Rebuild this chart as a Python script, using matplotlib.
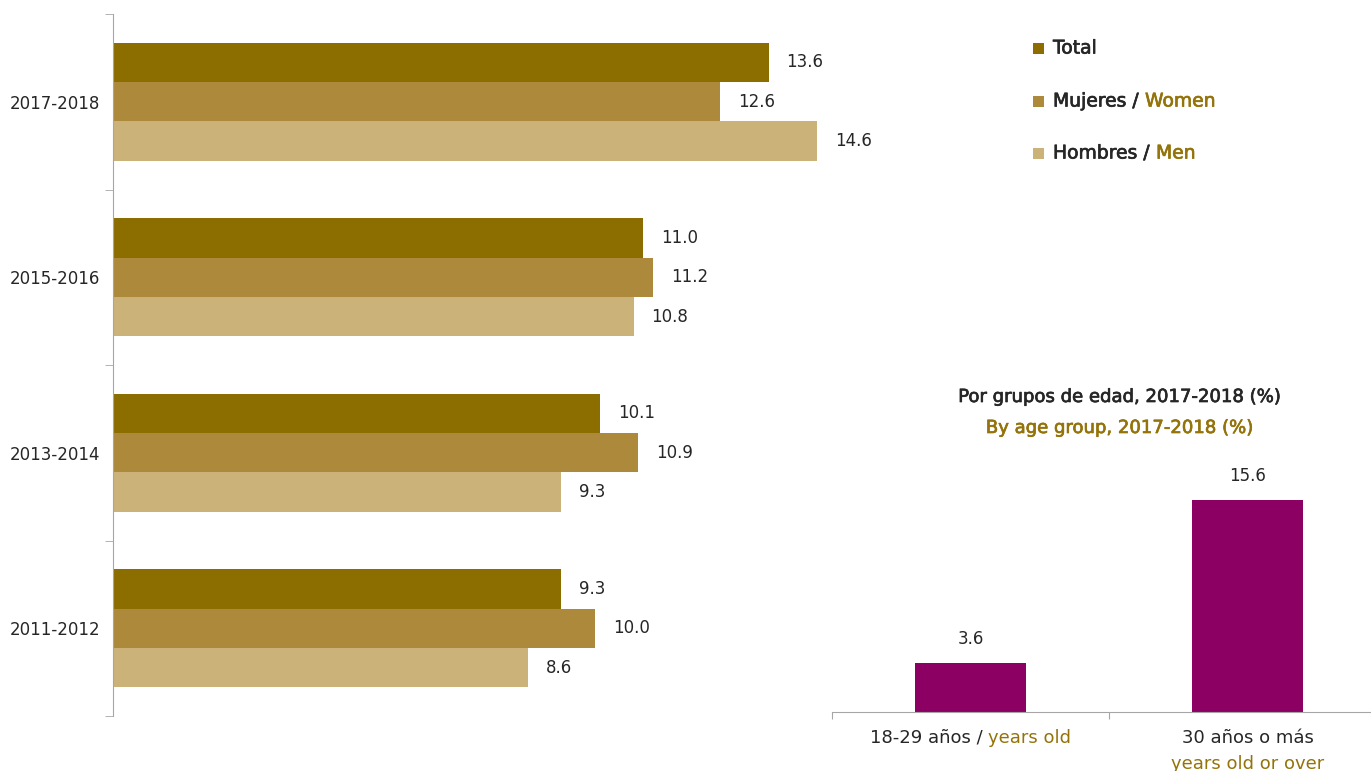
import numpy as np
import matplotlib.pyplot as plt
import matplotlib.patheffects as pe
from matplotlib.patches import Rectangle

# data
periods = ['2011-2012', '2013-2014', '2015-2016', '2017-2018']
total = [9.3, 10.1, 11.0, 13.6]
women = [10.0, 10.9, 11.2, 12.6]
men = [8.6, 9.3, 10.8, 14.6]

age_values = [3.6, 15.6]
age_labels = [('18-29 años / ', 'years old'), ('30 años o más', 'years old or over')]

legend_items = [('Total', ''), ('Mujeres / ', 'Women'), ('Hombres / ', 'Men')]

GOLD_DARK = '#8C6D00'
GOLD_MID = '#AD8A3B'
GOLD_LIGHT = '#CBB278'
PURPLE = '#8B0062'
TXT = '#262626'
ACCENT = '#94730A'
AXIS = '#A6A6A6'

plt.rcParams['font.family'] = ['DejaVu Sans']

W, H = 1371, 771
fig = plt.figure(figsize=(W / 100, H / 100), dpi=100)
renderer = fig.canvas.get_renderer()


def medium(col):
    # thin stroke to fake a medium font weight
    return [pe.withStroke(linewidth=0.5, foreground=col)]


def two_tone(x, y, first, second, ha='left', size=12, heavy=False):
    # x, y in pixels (y from top); first part dark, second part gold
    full = fig.text(x / W, 1 - y / H, first + second, ha=ha, va='center', fontsize=size, alpha=0)
    bb = full.get_window_extent(renderer)
    t = fig.text(bb.x0 / W, 1 - y / H, first, ha='left', va='center', color=TXT, fontsize=size)
    if heavy:
        t.set_path_effects(medium(TXT))
    if second:
        t2 = fig.text(bb.x1 / W, 1 - y / H, second, ha='right', va='center', color=ACCENT, fontsize=size)
        if heavy:
            t2.set_path_effects(medium(ACCENT))
    full.remove()


# --- left: grouped horizontal bars
ax = fig.add_axes([113 / W, 55 / H, 723 / W, 702 / H])
y = np.arange(len(periods))
h = 0.224
for vals, off, col in [(total, h, GOLD_DARK), (women, 0, GOLD_MID), (men, -h, GOLD_LIGHT)]:
    ax.barh(y + off, vals, h, color=col)
    for yy, v in zip(y + off, vals):
        ax.annotate(f'{v:.1f}', xy=(v, yy), xytext=(13, 0), textcoords='offset points',
                    ha='left', va='center', fontsize=12, color=TXT)

ax.set_xlim(0, 15)
ax.set_ylim(-0.5, 3.5)
ax.set_xticks([])
ax.set_yticks(y, periods)
ax.set_yticks(np.arange(-0.5, 4, 1), minor=True)
ax.tick_params(axis='y', which='major', length=0, pad=9, labelsize=12, labelcolor=TXT)
ax.tick_params(axis='y', which='minor', length=6, color=AXIS)
for s in ['top', 'right', 'bottom']:
    ax.spines[s].set_visible(False)
ax.spines['left'].set_color(AXIS)

# --- legend (top right)
for (first, second), col, ly in zip(legend_items, [GOLD_DARK, GOLD_MID, GOLD_LIGHT], [48, 101, 153]):
    fig.add_artist(Rectangle((1033 / W, 1 - (ly + 5.5) / H), 11 / W, 11 / H,
                             transform=fig.transFigure, color=col, lw=0))
    two_tone(1053, ly, first, second, size=13.5, heavy=True)

# --- right: age group bars
ax2 = fig.add_axes([832 / W, 59 / H, 554 / W, 245 / H])
xa = np.arange(len(age_values))
ax2.bar(xa, age_values, 0.40, color=PURPLE)
for xx, v in zip(xa, age_values):
    ax2.annotate(f'{v:.1f}', xy=(xx, v), xytext=(0, 17), textcoords='offset points',
                 ha='center', va='center', fontsize=12, color=TXT)
ax2.set_xlim(-0.5, 1.5)
ax2.set_ylim(0, 18)
ax2.set_yticks([])
ax2.set_xticks([-0.5, 0.5, 1.5], ['', '', ''])
ax2.tick_params(axis='x', length=5, color=AXIS)
for s in ['top', 'right', 'left']:
    ax2.spines[s].set_visible(False)
ax2.spines['bottom'].set_color(AXIS)

# category labels under the bars
cx0 = ax2.transData.transform((xa[0], 0))[0]
cx1 = ax2.transData.transform((xa[1], 0))[0]
two_tone(cx0, 738, age_labels[0][0], age_labels[0][1], ha='center', size=13)
fig.text(cx1 / W, 1 - 738 / H, age_labels[1][0], ha='center', va='center', color=TXT, fontsize=13)
fig.text(cx1 / W, 1 - 764 / H, age_labels[1][1], ha='center', va='center', color=ACCENT, fontsize=13)

# subtitle
fig.text(1119 / W, 1 - 397 / H, 'Por grupos de edad, 2017-2018 (%)', ha='center', va='center',
         color=TXT, fontsize=13, path_effects=medium(TXT))
fig.text(1119 / W, 1 - 428 / H, 'By age group, 2017-2018 (%)', ha='center', va='center',
         color=ACCENT, fontsize=13, path_effects=medium(ACCENT))

fig.savefig('out.png', dpi=100)
